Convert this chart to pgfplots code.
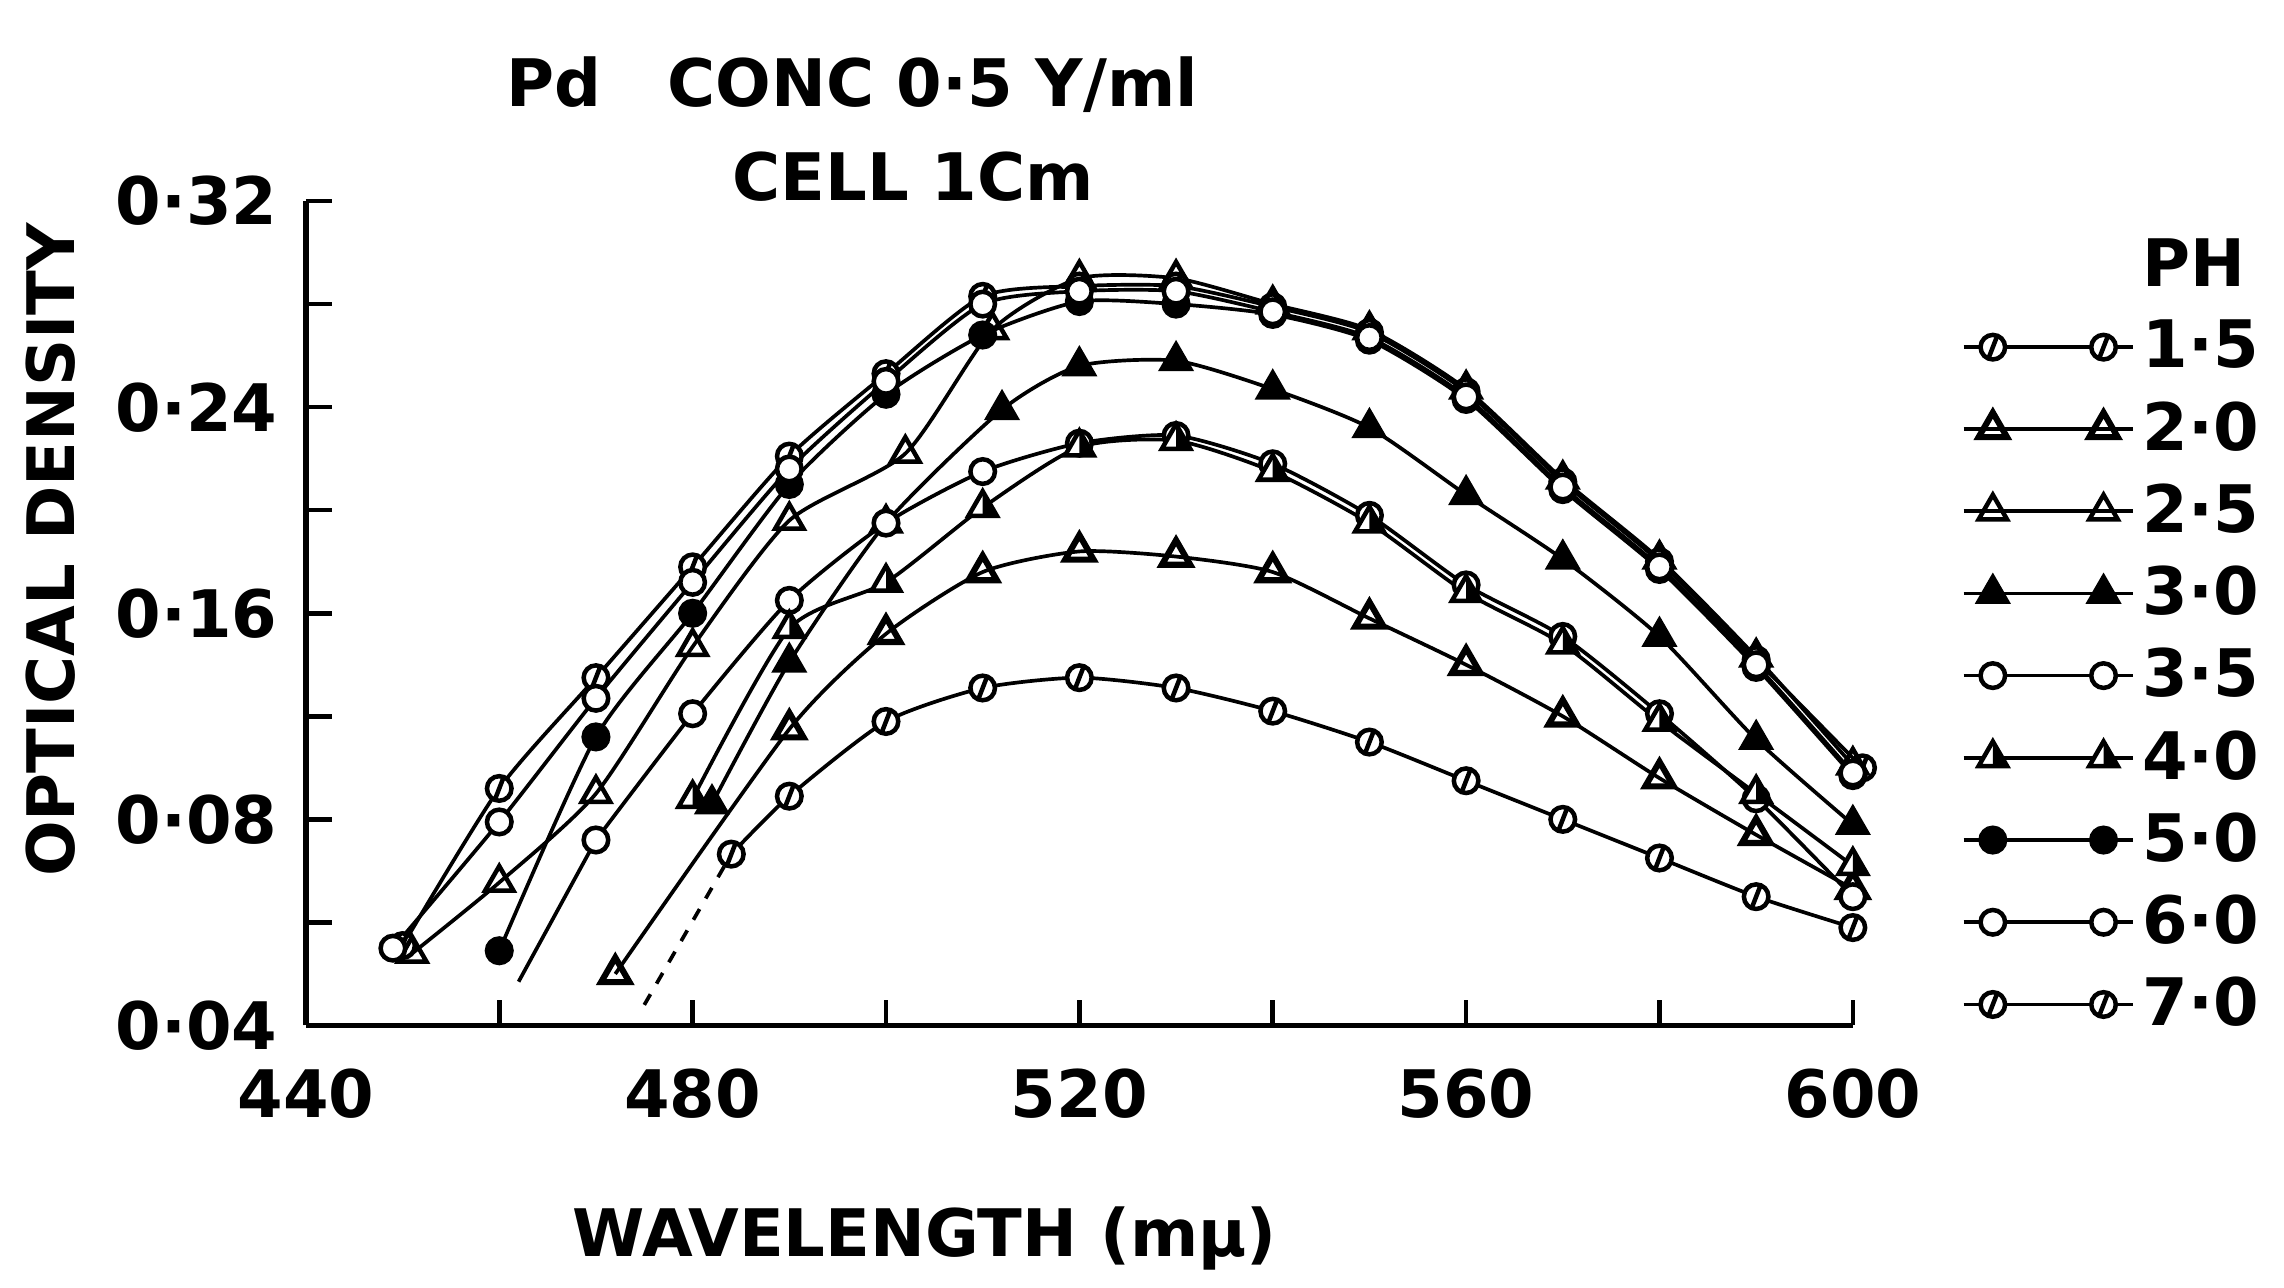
\documentclass[border=0pt]{standalone}
\usepackage{pgfplots}
\pgfplotsset{compat=1.18}
\usepackage{fontspec}
\setmainfont{DejaVu Sans}

% circle with a slash (pH 1.5 and 7.0)
\pgfdeclareplotmark{slashcirc}{%
  \pgfpathcircle{\pgfpointorigin}{\pgfplotmarksize}%
  \pgfusepathqfillstroke
  \pgfpathmoveto{\pgfpoint{-0.35\pgfplotmarksize}{-0.9\pgfplotmarksize}}%
  \pgfpathlineto{\pgfpoint{0.35\pgfplotmarksize}{0.9\pgfplotmarksize}}%
  \pgfusepathqstroke}
% half filled triangle (pH 4.0)
\pgfdeclareplotmark{halftri}{%
  \pgfpathmoveto{\pgfpoint{0pt}{\pgfplotmarksize}}%
  \pgfpathlineto{\pgfpoint{0.866\pgfplotmarksize}{-0.5\pgfplotmarksize}}%
  \pgfpathlineto{\pgfpoint{-0.866\pgfplotmarksize}{-0.5\pgfplotmarksize}}%
  \pgfpathclose
  \pgfusepathqfillstroke
  \begin{pgfscope}%
  \pgfsetfillcolor{black}%
  \pgfpathmoveto{\pgfpoint{0pt}{\pgfplotmarksize}}%
  \pgfpathlineto{\pgfpoint{0pt}{-0.5\pgfplotmarksize}}%
  \pgfpathlineto{\pgfpoint{0.866\pgfplotmarksize}{-0.5\pgfplotmarksize}}%
  \pgfpathclose
  \pgfusepathqfill
  \end{pgfscope}}

\newcommand{\lab}{\fontsize{16}{19}\selectfont\bfseries}

\begin{document}
\begin{tikzpicture}
\path (-2.625,-2.25) rectangle (16.975,8.8);
\begin{axis}[
  at={(0,0)}, anchor=south west,
  width=13.275cm, height=7.075cm, scale only axis,
  xmin=440, xmax=600, ymin=0, ymax=0.32,
  axis lines=left, axis line style={-, line width=1.3pt},
  tick align=inside, major tick length=0.22cm,
  tick style={line width=1.1pt, black},
  xtick={440,460,480,500,520,540,560,580,600},
  xticklabels={440,{},480,{},520,{},560,{},600},
  ytick={0,0.04,0.08,0.12,0.16,0.2,0.24,0.28,0.32},
  yticklabels={0·04,{},0·08,{},0·16,{},0·24,{},0·32},
  tick label style={font=\lab},
  yticklabel style={xshift=-0.12cm},
  xticklabel style={yshift=-0.25cm},
  clip=false,
  legend style={at={(1.062,0.975)}, anchor=north west, draw=none, fill=none,
    font=\lab, row sep=2.7pt, /tikz/every even column/.append style={column sep=0.2cm}},
  legend cell align=left,
  legend image code/.code={\draw[mark repeat=2,mark phase=2]
    plot coordinates {(0cm,0cm) (0.25cm,0cm) (0.72cm,0cm) (1.2cm,0cm) (1.45cm,0cm)};},
  every axis plot/.append style={black, line width=0.9pt, smooth, tension=0.4},
]
\addlegendimage{empty legend}
\addlegendentry{PH}

% pH 1.5
\addplot[mark=slashcirc, mark size=3pt, mark options={fill=white, line width=1.1pt}] coordinates {
(450,0.031) (460,0.092) (470,0.135) (480,0.178) (490,0.221) (500,0.253) (510,0.283)
(520,0.287) (530,0.287) (540,0.279) (550,0.269) (560,0.246) (570,0.211) (580,0.180)
(590,0.142) (601,0.100)};
\addlegendentry{1·5}

% pH 2.0
\addplot[mark=triangle, mark size=4pt, mark options={fill=white, line width=1.5pt}] coordinates {
(472,0.020) (490,0.115) (500,0.152) (510,0.176) (520,0.184) (530,0.182) (540,0.176)
(550,0.158) (560,0.140) (570,0.120) (580,0.096) (590,0.074) (600,0.053)};
\addlegendentry{2·0}

% pH 2.5
\addplot[mark=triangle, mark size=4pt, mark options={fill=white, line width=1.1pt}] coordinates {
(451,0.028) (460,0.0555) (470,0.090) (480,0.147) (490,0.196) (502,0.222) (511,0.270)
(520,0.290) (530,0.290) (540,0.280) (550,0.270) (560,0.247) (570,0.212) (580,0.181)
(590,0.143) (600,0.101)};
\addlegendentry{2·5}

% pH 3.0
\addplot[mark=triangle*, mark size=4pt, mark options={line width=1.1pt}] coordinates {
(482,0.086) (490,0.141) (500,0.195) (512,0.239) (520,0.256) (530,0.258) (540,0.247)
(550,0.232) (560,0.206) (570,0.181) (580,0.151) (590,0.111) (600,0.078)};
\addlegendentry{3·0}

% pH 3.5
\addplot[mark=*, mark size=3pt, mark options={fill=white, line width=1.1pt}] coordinates {
(470,0.072) (480,0.121) (490,0.165) (500,0.195) (510,0.215) (520,0.226) (530,0.229)
(540,0.218) (550,0.198) (560,0.171) (570,0.151) (580,0.121) (590,0.088) (600,0.050)};
\addlegendentry{3·5}
\addplot[forget plot, no marks] coordinates {(462,0.017) (470,0.072)};

% pH 4.0
\addplot[mark=halftri, mark size=4pt, mark options={fill=white, line width=1.1pt}] coordinates {
(480,0.088) (490,0.154) (500,0.172) (510,0.201) (520,0.2245) (530,0.227) (540,0.215)
(550,0.195) (560,0.168) (570,0.148) (580,0.118) (590,0.090) (600,0.062)};
\addlegendentry{4·0}

% pH 5.0
\addplot[mark=*, mark size=3pt, mark options={line width=1.1pt}] coordinates {
(460,0.029) (470,0.112) (480,0.160) (490,0.210) (500,0.245) (510,0.268) (520,0.281)
(530,0.280) (540,0.276) (550,0.266) (560,0.243) (570,0.208) (580,0.177) (590,0.139)
(600,0.097)};
\addlegendentry{5·0}

% pH 6.0
\addplot[mark=*, mark size=3pt, mark options={fill=white, line width=1.1pt}] coordinates {
(449,0.030) (460,0.079) (470,0.127) (480,0.172) (490,0.216) (500,0.250) (510,0.280)
(520,0.285) (530,0.285) (540,0.277) (550,0.267) (560,0.244) (570,0.209) (580,0.178)
(590,0.140) (600,0.098)};
\addlegendentry{6·0}

% pH 7.0
\addplot[mark=slashcirc, mark size=3pt, mark options={fill=white, line width=1.1pt}] coordinates {
(484,0.0665) (490,0.089) (500,0.118) (510,0.131) (520,0.135) (530,0.131) (540,0.122)
(550,0.110) (560,0.095) (570,0.080) (580,0.065) (590,0.050) (600,0.038)};
\addlegendentry{7·0}
\addplot[forget plot, no marks, dashed] coordinates {(475,0.008) (484,0.0665)};
\end{axis}

\node[font=\lab] at (4.69,8.07) {Pd\quad CONC 0·5 Y/ml};
\node[font=\lab] at (5.21,7.28) {CELL 1Cm};
\node[font=\lab, rotate=90] at (-2.19,4.08) {OPTICAL DENSITY};
\node[font=\lab] at (5.31,-1.83) {WAVELENGTH (mμ)};
\end{tikzpicture}
\end{document}
